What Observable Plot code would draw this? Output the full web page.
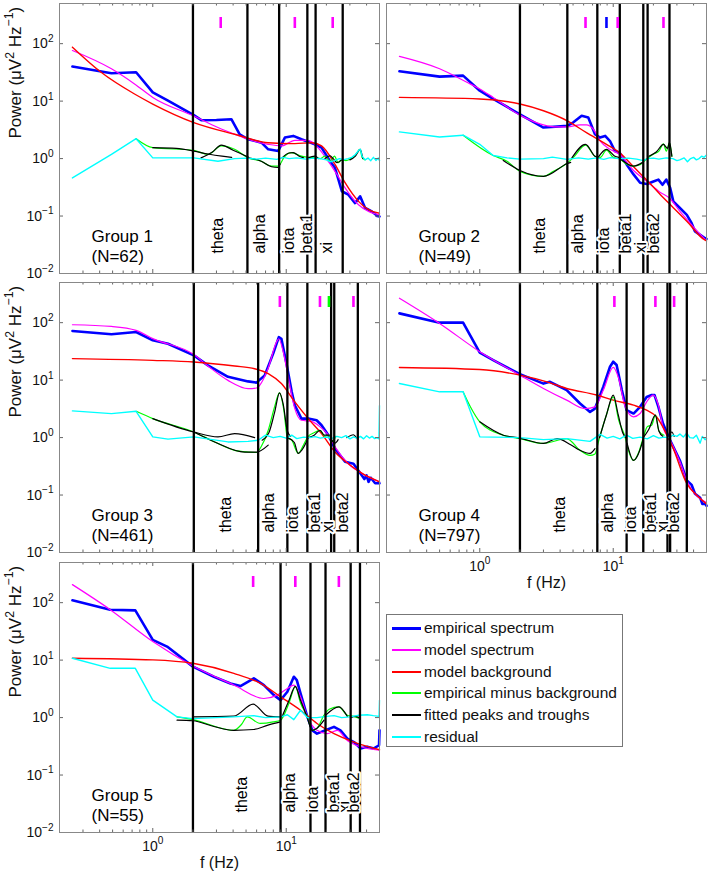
<!DOCTYPE html>
<html><head><meta charset="utf-8">
<script src="https://cdn.jsdelivr.net/npm/d3@7"></script>
<script src="https://cdn.jsdelivr.net/npm/@observablehq/plot@0.6"></script>
<style>
body{margin:0;background:#fff;font-family:"Liberation Sans",Arial,sans-serif;}
#root{position:relative;width:709px;height:876px;overflow:hidden;background:#fff;}
#root svg{position:absolute;overflow:visible;background:transparent;}
.legend{position:absolute;left:386px;top:614px;width:237px;height:133px;border:1px solid #777;background:#fff;box-sizing:border-box;padding-top:2px;}
.legend .row{position:relative;height:21.8px;font-size:15.5px;line-height:21.8px;color:#111;white-space:nowrap;}
.legend .sw{position:absolute;left:5px;top:10px;width:29px;}
.legend .lb{position:absolute;left:37px;top:0;}
</style>
</head><body>
<div id="root"></div>
<script>
// ---------- data (frequency Hz, power µV²/Hz) ----------
const legendNames = ["empirical spectrum","model spectrum","model background","empirical minus background","fitted peaks and troughs","residual"];
const seriesColors = ["#0000ff","#ff00ff","#ff0000","#00ff00","#000000","#00ffff"];

// Group 1
const g1Empirical = [[0.25,40],[0.49,30.6],[0.75,31.8],[1.0,14.2],[1.3,10.2],[2.03,5.7],[2.31,4.66],[3.0,4.7],[3.88,4.85],[4.48,2.65],[5.18,2.17],[6.53,1.89],[7.33,1.45],[8.7,1.35],[9.77,2.32],[11.3,2.48],[13.0,2.17],[16.4,1.77],[18.4,1.55],[21.3,0.9],[23.2,0.69],[26.1,0.27],[29.2,0.235],[32.8,0.168],[35.8,0.22],[39,0.138],[43.8,0.12],[46,0.11],[48,0.1],[50,0.098]];
const g1Model = [[0.25,76],[0.49,36.5],[0.73,19.9],[1.0,11.6],[2.03,5.5],[3.08,3.47],[4.11,2.65],[5.18,2.17],[7.33,1.77],[9.2,1.66],[11.6,2.08],[14.6,2.08],[17.3,1.55],[20,1.0],[23.2,0.6],[27.6,0.31],[34.8,0.157],[41.4,0.12],[50,0.105]];
const g1Background = [[0.25,87],[0.41,31.8],[0.73,13.3],[1.0,8.9],[2.03,4.24],[4.11,2.65],[7.33,1.89],[11.6,1.82],[15.5,1.89],[18.4,1.66],[23.2,0.79],[27.6,0.38],[34.8,0.18],[41.4,0.129],[50,0.112]];
const g1Minus = [[0.75,2.22],[1.0,1.55],[2.03,1.39],[2.6,1.18],[3.26,1.66],[4.1,1.45],[5.18,1.03],[6.5,0.9],[7.76,0.74],[8.7,0.74],[9.77,1.1],[10.9,1.27],[13,1.1],[16.4,1.03],[18,1.0],[19.5,1.1],[21.3,0.9],[23,1.1],[24.5,0.85],[26,0.95],[28,0.92],[30,0.97],[33,1.15],[35.8,1.45],[37,1.05],[39,0.95]];
const g1Fitted = [
  [[1.0,1.55],[1.5,1.5],[2.03,1.35],[2.6,1.2],[3.3,1.1],[3.9,1.05]],
  [[2.3,1.03],[2.8,1.3],[3.26,1.72],[4.0,1.4],[5.2,1.06]],
  [[5.2,1.03],[6.5,0.9],[7.76,0.72],[8.7,0.7],[9.0,0.8]],
  [[9.3,1.03],[10.5,1.25],[11.3,1.27],[12.5,1.1],[13.5,1.03]],
  [[14.5,1.02],[16.4,1.1],[17.5,1.0]],
  [[19.5,1.0],[21.3,1.12],[22.5,1.0],[24,0.85],[26,0.95]],
  [[30,0.95],[33,1.1],[35.8,1.45],[37.5,1.0]]
];
const g1Residual = [[0.25,0.46],[0.49,1.18],[0.75,2.22],[1.0,1.03],[1.3,1.03],[2.03,1.03],[3.08,0.9],[4.1,1.0],[5.0,1.02],[6.0,0.98],[7.0,1.02],[8.5,0.97],[9.5,1.05],[10.5,1.0],[12,1.03],[14,0.98],[16,1.02],[18,1.0],[20,0.95],[21.5,0.88],[23,0.92],[25,1.0],[27,0.96],[29,1.0],[31,1.05],[33,1.18],[35,1.4],[36,1.45],[37,1.1],[39,0.95],[41,1.02],[43,0.92],[45,1.05],[47,0.93],[49,1.02],[50,0.92]];
const g1Bounds = [2.0,5.12,8.85,14.4,16.6,26.5];
const g1Bands = [["theta",3.36],["alpha",6.9],["iota",11.5],["beta1",15.5],["xi",21.9]];
const g1Peaks = [[3.23,"#ff00ff"],[11.6,"#ff00ff"],[22.3,"#ff00ff"]];

// Group 2
const g2Empirical = [[0.25,33],[0.5,26.7],[0.75,27.8],[1.0,15.2],[1.26,10.9],[2.0,5.9],[3.0,3.47],[4.53,3.71],[5.0,4.24],[5.8,5.55],[6.5,5.19],[7.3,2.65],[7.96,2.32],[8.7,2.48],[9.46,2.02],[10.3,1.35],[11.2,1.26],[12.6,0.79],[14.2,0.53],[15.9,0.38],[17.9,0.36],[20,0.4],[21.8,0.43],[23.4,0.35],[25,0.43],[26.7,0.31],[28.2,0.18],[31.6,0.138],[35.6,0.105],[38.7,0.075],[41,0.054],[44.8,0.047],[48.8,0.041],[50,0.04]];
const g2Model = [[0.25,59.9],[0.5,36.5],[0.8,21.3],[1.0,16.3],[1.26,11.6],[2,5.7],[3,3.86],[3.78,3.56],[4.53,3.56],[5.64,3.86],[6.3,3.86],[7.1,3.24],[8,2.02],[9.46,1.45],[11.2,1.18],[14.2,0.62],[17.9,0.4],[22.4,0.26],[26.7,0.2],[31.6,0.12],[39.9,0.065],[50,0.037]];
const g2Background = [[0.25,11.6],[1,10.9],[2,8.9],[3,6.8],[4.53,4.54],[6.3,2.83],[8.9,1.77],[11.2,1.26],[14.2,0.72],[17.9,0.42],[22.4,0.24],[28.2,0.14],[35.6,0.081],[48.8,0.038],[50,0.037]];
const g2Minus = [[0.75,2.55],[1.26,1.13],[1.6,0.9],[2,0.6],[3,0.49],[3.56,0.6],[4.53,0.84],[5,1.03],[6.2,1.72],[7.3,1.1],[8,1.05],[8.9,1.4],[10,1.05],[11.2,0.98],[12.6,0.8],[14.2,0.74],[15.9,0.78],[17,0.9],[18.5,1.05],[20,1.2],[22,1.35],[23.8,1.8],[25,1.35],[26.4,1.9],[27.5,1.1]];
const g2Fitted = [
  [[1.5,0.93],[2,0.62],[3,0.49],[4.53,0.82],[4.8,0.86]],
  [[4.9,1.03],[6.2,1.77],[7.3,1.1],[7.6,1.05]],
  [[7.7,1.05],[8.9,1.45],[10.3,1.1],[11,1.05]],
  [[11.2,1.0],[14.2,0.74],[16.5,0.85]],
  [[18.5,1.1],[21,1.3],[23.8,1.77],[25.5,1.5],[26.4,1.9],[27.5,1.1]]
];
const g2Residual = [[0.25,2.91],[0.5,2.38],[0.75,2.55],[1,1.77],[1.26,1.13],[1.6,1.03],[2,0.98],[3,1.0],[3.5,1.06],[4.5,0.97],[5.5,1.03],[6.5,0.98],[7.5,1.03],[8.5,0.97],[9.5,1.04],[11,1.0],[13,1.02],[15,0.98],[16.8,0.92],[18,1.0],[20,1.02],[22,0.98],[25,1.03],[28,1.0],[30,0.92],[31.5,0.95],[34,1.03],[36,0.88],[38,1.0],[40,1.05],[42,0.95],[44,1.0],[46,1.1],[48,1.05],[50,1.15]];
const g2Bounds = [2.0,4.53,7.6,11.2,16.8,18.1,26.4];
const g2Bands = [["theta",3.08],["alpha",5.97],["iota",9.35],["beta1",13.7],["xi",17.5],["beta2",22.2]];
const g2Peaks = [[6.2,"#ff00ff"],[8.9,"#0000ff"],[10.8,"#ff00ff"],[23.8,"#ff00ff"]];

// Group 3
const g3Empirical = [[0.25,71.6],[0.49,62.7],[0.75,68.8],[1,49.3],[1.3,43],[2.03,27],[2.59,18.1],[3.66,11.4],[5.18,9.5],[5.98,9.05],[6.9,12.1],[7.98,28.9],[8.8,56],[9.2,52.5],[10.1,18.1],[11,6.2],[11.6,3.65],[13,2.14],[14.6,2.14],[16.9,2.0],[18.4,1.64],[20.7,1.1],[23.2,0.64],[27.6,0.38],[31.9,0.35],[36.8,0.22],[38.5,0.19],[40,0.22],[41.4,0.17],[43,0.2],[46.4,0.16],[50,0.16]];
const g3Model = [[0.25,92],[0.49,86],[0.75,73.6],[1,52.7],[2.03,27.8],[2.59,17.6],[3.66,9.9],[5.18,7.1],[5.98,7.3],[7.3,15.8],[8.46,46],[8.8,52.5],[9.5,30.9],[10.4,10.6],[11.6,3.19],[13,2.0],[15.5,1.92],[17.3,1.64],[20.7,1.1],[23.2,0.69],[29.2,0.35],[36.8,0.24],[50,0.17]];
const g3Background = [[0.25,23.7],[1,22.1],[2.03,20.7],[4.11,17.6],[5.8,15.8],[7.33,13],[9.2,8.7],[11.6,4.17],[14.6,2.14],[18.4,1.17],[23.2,0.56],[29.2,0.35],[36.8,0.24],[50,0.17]];
const g3Minus = [[0.75,2.87],[1,2.14],[2.03,1.25],[2.91,0.84],[4.11,0.6],[5.18,0.56],[5.98,0.55],[6.5,0.7],[7.3,1.3],[8.2,3.5],[8.9,6.0],[9.6,3.0],[10.2,1.0],[11,0.9],[12.3,0.53],[13.5,0.75],[14.6,1.05],[16,1.2],[17.9,1.34],[19.5,1.05],[20.7,1.1],[22,0.85],[23.5,1.05]];
const g3Fitted = [
  [[1,2.14],[2.03,1.25],[3.08,1.03],[4.11,1.17],[5.8,1.0]],
  [[2.03,1.25],[2.91,0.84],[4.89,0.56],[5.98,0.56],[7.33,0.74]],
  [[6.6,0.9],[7.4,1.2],[8.2,2.8],[8.9,6.0],[9.5,3.8],[10.2,1.3],[10.8,1.05]],
  [[10.4,0.98],[11.5,0.82],[12.3,0.53],[13.2,0.62],[14.6,0.98]],
  [[14.6,1.0],[16.2,1.1],[17.9,1.34],[19.3,1.1],[21,1.1]],
  [[21.5,0.98],[23.2,0.8],[24.5,0.92]],
  [[28.5,1.0],[31.9,1.12],[33.5,1.0]]
];
const g3Residual = [[0.25,2.91],[0.49,2.61],[0.75,2.87],[1,1.03],[1.3,0.94],[2.03,1.03],[3.66,0.84],[5.18,0.86],[6.16,0.9],[7,1.1],[8,1.0],[9,1.05],[10,0.98],[11,1.1],[12,0.96],[13.5,1.02],[15,1.0],[16.5,1.04],[18,0.98],[20,1.02],[22,0.97],[24,1.05],[26,1.0],[28,1.08],[30,0.95],[32,1.03],[34,0.97],[36,1.05],[38,0.95],[40,1.08],[42,0.98],[44,1.05],[46,0.96],[48,1.0],[49.5,0.95],[50,3.6]];
const g3Bounds = [2.03,6.16,10.2,14.4,21.7,22.9,34.4];
const g3Bands = [["theta",3.88],["alpha",8.13],["iota",12.2],["beta1",17.9],["xi",22.6],["beta2",29.2]];
const g3Peaks = [[8.96,"#ff00ff"],[17.9,"#ff00ff"],[20.9,"#00ff00"],[31.9,"#ff00ff"]];

// Group 4
const g4Empirical = [[0.25,145],[0.5,100],[0.75,100],[1,30],[1.26,22.3],[2,12.7],[3,8.7],[3.36,9.35],[4.48,6.7],[5.64,3.92],[6.7,2.8],[7.3,3.2],[8.43,7.66],[9.46,17.1],[10,20.9],[10.6,18.3],[11.6,6.7],[12.6,3.0],[14.2,2.62],[15.9,3.43],[17.8,5.1],[19.4,5.5],[20.4,5.5],[21.8,3.43],[23.6,1.75],[26.7,0.9],[28.2,0.69],[31.6,0.4],[35.6,0.18],[38.7,0.15],[41,0.105],[44.8,0.09],[46.5,0.07],[48.8,0.071],[50,0.065]];
const g4Model = [[0.25,266],[0.5,97],[1,31.2],[2,12.2],[3,7.16],[4.48,4.48],[6.15,3.2],[7.3,3.43],[8.43,6.7],[10,16.6],[10.9,11.4],[12.3,3.43],[14.2,2.3],[15.9,2.62],[17.8,4.19],[20,5.5],[21.8,3.66],[23.6,1.53],[26.7,0.9],[31.6,0.38],[35.6,0.18],[48.8,0.076],[50,0.074]];
const g4Background = [[0.25,16.6],[1,15.3],[2,12.2],[3.18,9.35],[4.48,7.16],[7.5,5.5],[10,4.48],[14.2,3.66],[17.8,3.0],[21.1,2.3],[25,1.17],[28.2,0.64],[35.6,0.158],[42.3,0.099],[50,0.07]];
const g4Minus = [[0.75,6.26],[0.85,3.43],[1,1.88],[1.5,1.1],[2,0.96],[3,0.79],[4.48,0.96],[5.64,0.6],[6.7,0.49],[7.3,0.52],[7.8,0.9],[8.9,2.5],[10,5.1],[11,2.0],[12.3,1.0],[13,0.6],[14.2,0.4],[15.5,0.55],[16.8,1.0],[18,1.55],[19.4,1.64],[20.7,2.45],[22,1.3],[24,1.1]];
const g4Fitted = [
  [[1,1.88],[1.5,1.1],[2,0.98],[3,0.79],[3.8,0.96],[4.8,0.75],[5.64,0.6],[6.7,0.53],[7.3,0.64]],
  [[7.9,1.0],[8.9,2.5],[10,5.5],[10.9,2.5],[11.8,1.2],[12.4,1.0]],
  [[12.7,0.8],[14.2,0.4],[15.9,0.62],[16.8,0.95]],
  [[16.8,1.0],[18.5,1.4],[20.7,2.45],[22,1.3],[23.5,1.05]],
  [[26.1,1.0],[27.5,1.25],[28.6,1.05]]
];
const g4Residual = [[0.25,8.75],[0.5,6.26],[0.75,6.26],[1,1.03],[2,1.0],[3,0.92],[4.48,0.96],[6.7,0.86],[7.96,1.14],[9,0.98],[10,1.05],[11.2,0.95],[12.6,1.1],[14,0.97],[15.9,1.02],[18,0.95],[20,1.08],[22,0.98],[24,1.02],[26,1.0],[28.2,1.1],[30,1.05],[31.6,1.15],[33.5,1.02],[35.6,1.2],[37.5,1.0],[39.9,0.98],[42,1.1],[44.8,0.8],[46.5,1.05],[48.8,0.92],[50,0.96]];
const g4Bounds = [2.0,7.6,12.6,16.8,25.5,26.7,35.6];
const g4Bands = [["theta",4.35],["alpha",10.0],["iota",14.8],["beta1",20.9],["xi",25.9],["beta2",31.3]];
const g4Peaks = [[10.2,"#ff00ff"],[20.7,"#ff00ff"],[28.6,"#ff00ff"]];

// Group 5
const g5Empirical = [[0.25,110],[0.48,75.5],[0.74,73.4],[1,22.5],[1.28,17.2],[2,7.7],[2.87,5.14],[3.82,3.93],[4.54,3.53],[5.72,4.81],[6.8,3.68],[8.08,2.46],[9.07,2.01],[10.2,2.81],[11.4,5.14],[12,4.5],[12.8,2.63],[14.4,1.03],[15.7,0.6],[17,0.525],[19.7,0.6],[22.8,0.69],[25.5,0.6],[28.7,0.43],[32.2,0.375],[36.1,0.29],[40.5,0.31],[45.4,0.29],[49.6,0.33],[50,0.6]];
const g5Model = [[0.25,206],[0.48,75.5],[1,21],[2,7.9],[4.05,3.68],[6.8,2.15],[8.56,2.46],[10.2,3.22],[11.4,3.68],[12.8,2.3],[14.4,1.03],[17,0.6],[20.3,0.525],[24.1,0.6],[28.7,0.4],[36.1,0.31],[50,0.27]];
const g5Background = [[0.25,10.8],[1,10.1],[2,8.8],[4.05,5.89],[6.42,3.93],[9.07,2.3],[12.8,1.34],[17,0.79],[22.8,0.525],[32.2,0.375],[50,0.275]];
const g5Minus = [[1.52,1.03],[2,0.92],[4.05,0.6],[4.6,0.75],[5.1,1.03],[6.4,0.79],[8,0.84],[9.07,0.9],[10.5,1.8],[11.7,3.44],[12.8,1.8],[14.4,1.03],[15.7,0.6],[17,0.65],[19.2,1.1],[21,1.4],[24.8,1.54],[28.7,1.1],[32,1.05],[35,0.98]];
const g5Fitted = [
  [[2,1.03],[4.05,1.06],[5.65,1.71],[7.3,1.06],[9.07,1.03]],
  [[1.52,0.9],[2,0.88],[2.87,0.7],[4.05,0.6],[5.7,0.62],[7.3,0.74],[9.07,0.84]],
  [[9.3,1.03],[10.5,2.0],[11.7,3.5],[12.8,2.0],[14.4,1.0]],
  [[14.4,1.0],[15.7,0.6],[17,0.65],[19.2,0.9]],
  [[19.7,1.1],[24.8,1.54],[28.7,1.05]],
  [[30.4,1.0],[33,1.05],[35.7,0.98]]
];
const g5Residual = [[0.25,10.8],[0.48,7.2],[0.74,7.2],[1,2.01],[1.52,1.03],[2,0.96],[3,1.0],[4.05,1.03],[5.7,1.08],[7,1.0],[9.07,1.03],[10.2,1.12],[11.4,0.92],[12.8,1.34],[14.4,1.0],[17,1.0],[20,1.05],[22.8,1.08],[26,1.0],[30,1.03],[35,1.1],[40.5,1.12],[45,1.08],[49.6,1.05],[50,2.0]];
const g5Bounds = [2.0,9.07,15.2,19.7,30.4,35.7];
const g5Bands = [["theta",5.1],["alpha",11.7],["iota",17.3],["beta1",24.8],["xi",30.0],["beta2",35.1]];
const g5Peaks = [[5.65,"#ff00ff"],[11.7,"#ff00ff"],[24.8,"#ff00ff"]];

const groupNames = ["Group 1","Group 2","Group 3","Group 4","Group 5"];
const groupN = [62,49,461,797,55];
const xMajor = [1,10];
const xMinor = [0.2,0.3,0.4,0.5,0.6,0.7,0.8,0.9,2,3,4,5,6,7,8,9,20,30,40,50];
const yMajor = [0.01,0.1,1,10,100];
const xLabel = "f (Hz)";
const yLabel = "Power (μV^2 Hz^-1)";

// ---------- drawing ----------
const W = 320, H = 270;
const FONT = "Liberation Sans, Arial, Helvetica, sans-serif";
const root = document.getElementById("root");

const panels = [
  {emp:g1Empirical, mod:g1Model, bg:g1Background, minus:g1Minus, fit:g1Fitted, res:g1Residual, bounds:g1Bounds, bands:g1Bands, peaks:g1Peaks, left:0, top:0, yText:true, xText:false},
  {emp:g2Empirical, mod:g2Model, bg:g2Background, minus:g2Minus, fit:g2Fitted, res:g2Residual, bounds:g2Bounds, bands:g2Bands, peaks:g2Peaks, left:384, top:0, yText:false, xText:false},
  {emp:g3Empirical, mod:g3Model, bg:g3Background, minus:g3Minus, fit:g3Fitted, res:g3Residual, bounds:g3Bounds, bands:g3Bands, peaks:g3Peaks, left:0, top:279, yText:true, xText:false},
  {emp:g4Empirical, mod:g4Model, bg:g4Background, minus:g4Minus, fit:g4Fitted, res:g4Residual, bounds:g4Bounds, bands:g4Bands, peaks:g4Peaks, left:384, top:279, yText:false, xText:true},
  {emp:g5Empirical, mod:g5Model, bg:g5Background, minus:g5Minus, fit:g5Fitted, res:g5Residual, bounds:g5Bounds, bands:g5Bands, peaks:g5Peaks, left:0, top:559, yText:true, xText:true}
];

const pow10 = d => "10^" + Math.round(Math.log10(d));
const X = d => d[0], Y = d => d[1];

function supify(svg) {
  d3.select(svg).selectAll("text").each(function () {
    if (this.querySelector("tspan")) return;
    const t = this.textContent;
    if (!t.includes("^")) return;
    const parts = t.split(/\^(-?\d+)/);
    const sel = d3.select(this);
    sel.text(null);
    let prevSup = false;
    parts.forEach((p, i) => {
      if (i % 2 === 0) {
        if (p === "") return;
        const ts = sel.append("tspan").text(p);
        if (prevSup) ts.attr("dy", "0.42em");
        prevSup = false;
      } else {
        sel.append("tspan").attr("font-size", "72%").attr("dy", "-0.6em").text(p.replace("-", "\u2212"));
        prevSup = true;
      }
    });
  });
}

panels.forEach((p, k) => {
  const ml = p.yText ? 59 : 2, mr = 2, mt = 3, mb = p.xText ? 45 : 3;
  const fitData = p.fit.flatMap((seg, i) => seg.map(d => ({f: d[0], v: d[1], s: i})));
  const marks = [
    Plot.line(p.emp, {x: X, y: Y, stroke: seriesColors[0], strokeWidth: 2.6}),
    Plot.line(p.mod, {x: X, y: Y, stroke: seriesColors[1], strokeWidth: 1.2, curve: "monotone-x"}),
    Plot.line(p.bg, {x: X, y: Y, stroke: seriesColors[2], strokeWidth: 1.4, curve: "monotone-x"}),
    Plot.line(p.minus, {x: X, y: Y, stroke: seriesColors[3], strokeWidth: 1.2, curve: "monotone-x"}),
    Plot.line(fitData, {x: "f", y: "v", z: "s", stroke: seriesColors[4], strokeWidth: 1.2, curve: "monotone-x"}),
    Plot.line(p.res, {x: X, y: Y, stroke: seriesColors[5], strokeWidth: 1.4}),
    Plot.ruleX(p.bounds, {x: d => d, stroke: "#000", strokeWidth: 2.3}),
    Plot.tickX(p.peaks, {x: X, stroke: Y, strokeWidth: 2.6, insetTop: 14, insetBottom: H - 25}),
    Plot.text(p.bands, {x: Y, text: X, frameAnchor: "bottom", dy: -20, rotate: -90, textAnchor: "start", fontSize: 16, fill: "#000", stroke: "#fff", strokeWidth: 4}),
    Plot.text([`${groupNames[k]}\n(N=${groupN[k]})`], {frameAnchor: "bottom-left", dx: 32, dy: -12, textAnchor: "start", lineAnchor: "bottom", fontSize: 17, lineHeight: 1.12, fill: "#000"}),
    // inward tick marks
    Plot.tickY(yMajor, {y: d => d, insetRight: W - 4, stroke: "#666"}),
    Plot.tickY(yMajor, {y: d => d, insetLeft: W - 4, stroke: "#666"}),
    Plot.tickX(xMajor, {x: d => d, insetTop: H - 4, stroke: "#666"}),
    Plot.tickX(xMajor, {x: d => d, insetBottom: H - 4, stroke: "#666"}),
    Plot.tickX(xMinor, {x: d => d, insetTop: H - 2.5, stroke: "#666"}),
    Plot.tickX(xMinor, {x: d => d, insetBottom: H - 2.5, stroke: "#666"}),
    Plot.frame({stroke: "#888"})
  ];
  if (p.yText) {
    marks.push(Plot.text(yMajor, {y: d => d, text: pow10, frameAnchor: "left", dx: -6, textAnchor: "end", fontSize: 14, fill: "#111"}));
    marks.push(Plot.text([yLabel], {frameAnchor: "left", dx: -44, rotate: -90, fontSize: 17, fill: "#111"}));
  }
  if (p.xText) {
    marks.push(Plot.text(xMajor, {x: d => d, text: pow10, frameAnchor: "bottom", dy: 18, fontSize: 14, fill: "#111"}));
    marks.push(Plot.text([xLabel], {frameAnchor: "bottom", dy: 35, fontSize: 16, fill: "#111"}));
  }
  const svg = Plot.plot({
    width: ml + W + mr,
    height: mt + H + mb,
    marginLeft: ml, marginRight: mr, marginTop: mt, marginBottom: mb,
    x: {type: "log", domain: [0.2, 50], axis: null},
    y: {type: "log", domain: [0.01, 500], axis: null},
    color: {type: "identity"},
    style: {fontFamily: FONT, background: "transparent", overflow: "visible"},
    marks
  });
  svg.style.left = p.left + "px";
  svg.style.top = p.top + "px";
  svg.style.position = "absolute";
  root.appendChild(svg);
  supify(svg);
});

// legend
const leg = document.createElement("div");
leg.className = "legend";
legendNames.forEach((name, i) => {
  const row = document.createElement("div");
  row.className = "row";
  const sw = document.createElement("div");
  sw.className = "sw";
  sw.style.borderTop = `${i === 0 ? 3 : 2}px solid ${seriesColors[i]}`;
  const lb = document.createElement("div");
  lb.className = "lb";
  lb.textContent = name;
  row.appendChild(sw); row.appendChild(lb);
  leg.appendChild(row);
});
root.appendChild(leg);
</script>
</body></html>
